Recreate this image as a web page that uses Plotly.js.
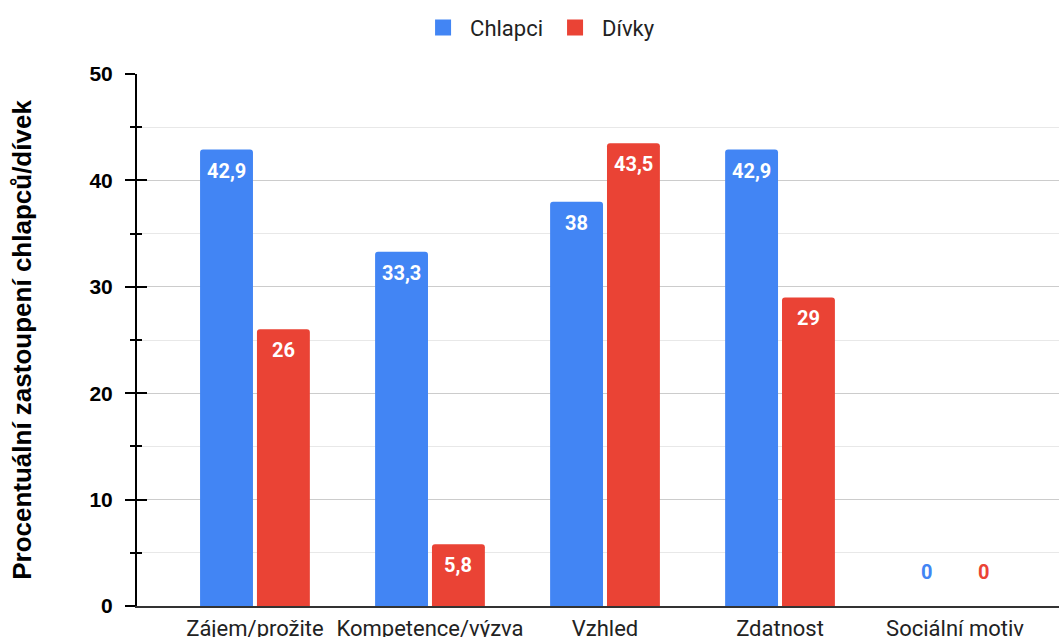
<!DOCTYPE html>
<html><head><meta charset="utf-8">
<script src="https://cdn.plot.ly/plotly-3.0.1.min.js"></script>
<style>html,body{margin:0;padding:0;background:#fff;}#chart{width:1059px;height:637px;}</style>
</head><body><div id="chart"></div>
<script>
const categories = ['Zájem/prožitek', 'Kompetence/výzva', 'Vzhled', 'Zdatnost', 'Sociální motiv'];
const seriesNames = ['Chlapci', 'Dívky'];
const chlapci = [42.9, 33.3, 38, 42.9, 0];
const divky = [26, 5.8, 43.5, 29, 0];
const yTicks = [0, 10, 20, 30, 40, 50];

const colors = ['#4285F4', '#EA4335'];
const catLabels = ['Zájem/prožite', 'Kompetence/výzva', 'Vzhled', 'Zdatnost', 'Sociální motiv'];

function mkTrace(vals, name, color) {
  return {
    type: 'bar', x: categories, y: vals, name: name, showlegend: false,
    marker: {color: color, cornerradius: 3},
    cliponaxis: false, hoverinfo: 'none'
  };
}
const data = [mkTrace(chlapci, seriesNames[0], colors[0]), mkTrace(divky, seriesNames[1], colors[1])];
// legend entries
seriesNames.forEach((n, s) => data.push({
  type: 'scatter', mode: 'markers', x: [null], y: [null], name: n, showlegend: true,
  marker: {symbol: 'square', size: 16, color: colors[s]}, hoverinfo: 'none'
}));

const annotations = [];
[chlapci, divky].forEach((vals, s) => {
  vals.forEach((v, i) => {
    const zero = v === 0;
    annotations.push({
      x: categories[i], y: v, xref: 'x', yref: 'y',
      text: '<b>' + String(v).replace('.', ',') + '</b>', showarrow: false,
      xshift: s === 0 ? -28.5 : 28.5,
      yanchor: zero ? 'middle' : 'top', yshift: zero ? 34 : -7,
      font: {family: 'Roboto, Arial, sans-serif', size: 20, color: zero ? colors[s] : '#ffffff'}
    });
  });
});

const layout = {
  width: 1059, height: 637,
  margin: {l: 137, r: 0, t: 74, b: 31},
  paper_bgcolor: '#fff', plot_bgcolor: '#fff',
  separators: ', ',
  barmode: 'group', bargap: 0.35, bargroupgap: 0.07,
  showlegend: true,
  legend: {orientation: 'h', x: 0.435, xanchor: 'center', y: 1.087, yanchor: 'middle',
    font: {family: 'Roboto, Arial, sans-serif', size: 22, color: '#222'}, itemwidth: 44, tracegroupgap: 0},
  xaxis: {
    type: 'category', range: [-0.674, 4.594],
    tickvals: categories, ticktext: catLabels,
    tickfont: {family: 'Roboto, Arial, sans-serif', size: 22, color: '#222'},
    showline: true, linecolor: '#333', linewidth: 2, ticks: '', showgrid: false,
    ticklabelstandoff: 2, fixedrange: true
  },
  yaxis: {
    range: [0, 50], tickvals: yTicks, ticktext: yTicks.map(String),
    tickfont: {family: '"Liberation Sans", Arial, sans-serif', size: 21, color: '#000', weight: 'bold'},
    showline: true, linecolor: '#000', linewidth: 2,
    ticks: 'outside', ticklen: 10, tickwidth: 2, tickcolor: '#000',
    ticklabelstandoff: 8,
    showgrid: true, gridcolor: '#cccccc', gridwidth: 1, zeroline: false,
    minor: {dtick: 5, tick0: 0, ticks: 'outside', ticklen: 5, tickwidth: 2, tickcolor: '#000', showgrid: true, gridcolor: '#e8e8e8', gridwidth: 1},
    title: {text: '<b>Procentuální zastoupení chlapců/dívek</b>', standoff: 50,
      font: {family: '"Liberation Sans", Arial, sans-serif', size: 26, color: '#000'}},
    fixedrange: true
  },
  yaxis2: {
    overlaying: 'y', side: 'left', range: [0, 50], tickvals: yTicks, showticklabels: false,
    ticks: 'inside', ticklen: 10, tickwidth: 2, tickcolor: '#000', showgrid: false, zeroline: false,
    showline: false,
    minor: {dtick: 5, tick0: 0, ticks: 'inside', ticklen: 5, tickwidth: 2, tickcolor: '#000', showgrid: false},
    fixedrange: true
  },
  annotations: annotations
};
data.push({type: 'scatter', x: [categories[0]], y: [0], yaxis: 'y2', mode: 'none', showlegend: false, hoverinfo: 'none'});
Plotly.newPlot('chart', data, layout, {displayModeBar: false, staticPlot: true});
</script></body></html>
